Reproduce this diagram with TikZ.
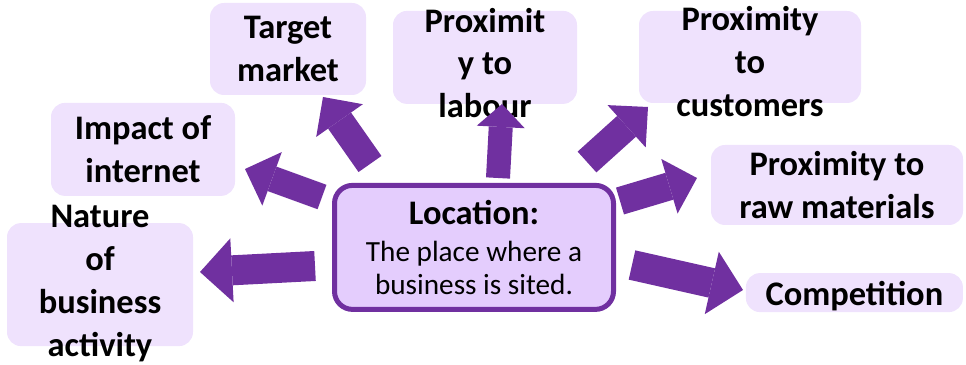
\documentclass[tikz,border=0pt]{standalone}
\usepackage{fontspec}
\setmainfont{Carlito}
\usetikzlibrary{arrows.meta, positioning}

\definecolor{arrowpurple}{HTML}{7030A0}
\definecolor{boxlilac}{HTML}{EFE2FD}
\definecolor{corelilac}{HTML}{E4CDFD}

\begin{document}
\begin{tikzpicture}[
        factor/.style={rectangle, rounded corners=0.35cm, fill=boxlilac, inner sep=0pt, align=center, font=\bfseries\fontsize{24.5}{30.5}\selectfont},
        tag/.style={inner sep=0pt, align=center, font=\bfseries\fontsize{24.5}{30.5}\selectfont},
        core/.style={rectangle, rounded corners=0.45cm, draw=arrowpurple, line width=0.125cm, fill=corelilac, minimum width=6.975cm, minimum height=3.1cm, inner sep=0pt, align=center, font=\fontsize{20.8}{23.6}\selectfont},
        push/.style={line width=0.7cm, arrowpurple, -{Triangle[width=1.425cm, length=0.72cm, line width=0pt]}},
        pushbig/.style={push, line width=0.75cm, -{Triangle[width=1.6cm, length=0.8cm, line width=0pt]}},
        pushsmall/.style={push, line width=0.6cm, -{Triangle[width=1.2cm, length=0.575cm, line width=0pt]}}
    ]
        \useasboundingbox (0,0) rectangle (24.15,9.125);

        % Centre
        \node[core] (loc) at (11.85,2.94) {\textbf{\fontsize{24.5}{28}\selectfont Location:}\\[3pt]The place where a\\business is sited.};

        % Factors
        \node[factor, minimum width=3.9cm, minimum height=2.3cm] (tgt) at (7.2,7.9) {Target\\market};
        \node[factor, minimum width=4.6cm, minimum height=2.325cm] (net) at (3.575,5.39) {Impact of\\internet};
        \node[factor, minimum width=6.3cm, minimum height=2cm] (raw) at (20.925,4.5) {Proximity to\\raw materials};

        % Factors whose text sits off the box centre
        \node[factor, minimum width=5.425cm, minimum height=0.975cm] (comp) at (21.36,1.81) {};
        \node[tag] (compText) at ([yshift=-0.08cm]comp.center) {Competition};
        \node[factor, minimum width=4.6cm, minimum height=2.325cm] (lab) at (12.125,7.69) {};
        \node[tag] (labText) at ([yshift=-0.14cm]lab.center) {Proximit\\y to\\labour};
        \node[factor, minimum width=5.55cm, minimum height=2.3cm] (cus) at (18.75,7.7) {};
        \node[tag] (cusText) at ([yshift=-0.12cm]cus.center) {Proximity\\to\\customers};
        \node[factor, minimum width=4.65cm, minimum height=3.075cm] (nat) at (2.5,2.01) {};
        \node[tag] (natText) at ([yshift=0.02cm]nat.center) {Nature\\of\\business\\activity};

        % Arrow ends
        \coordinate (tTgt) at (9.25,5.025);   \coordinate (hTgt) at (8.075,6.7);
        \coordinate (tNet) at (8.05,4.2);     \coordinate (hNet) at (6.125,4.9);
        \coordinate (tNat) at (7.875,2.475);  \coordinate (hNat) at (5.0,2.325);
        \coordinate (tLab) at (12.45,4.675);  \coordinate (hLab) at (12.55,6.525);
        \coordinate (tCus) at (14.675,5.075); \coordinate (hCus) at (16.2,6.45);
        \coordinate (tRaw) at (15.5,4.1);     \coordinate (hRaw) at (17.425,4.675);
        \coordinate (tComp) at (15.8,2.5);    \coordinate (hComp) at (18.575,1.875);

        \draw[push] (tTgt) -- (hTgt);
        \draw[push, line width=0.65cm] (tNet) -- (hNet);
        \draw[pushbig] (tNat) -- (hNat);
        \draw[pushsmall] (tLab) -- (hLab);
        \draw[push] (tCus) -- (hCus);
        \draw[push] (tRaw) -- (hRaw);
        \draw[pushbig] (tComp) -- (hComp);

    \end{tikzpicture}
\end{document}
